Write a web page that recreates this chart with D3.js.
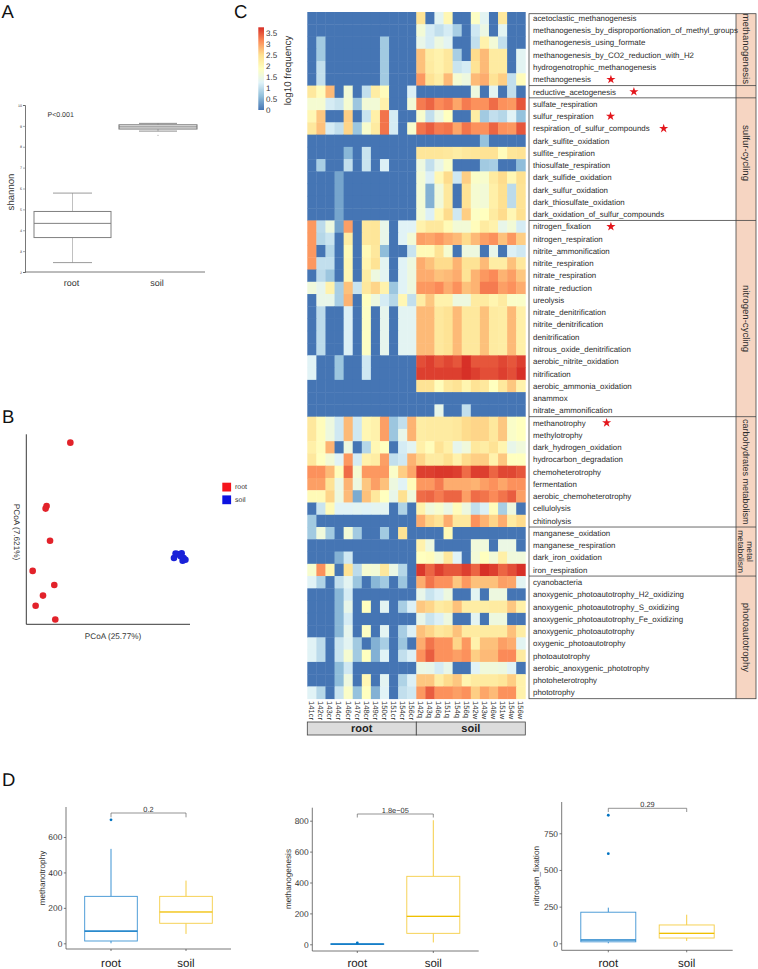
<!DOCTYPE html>
<html><head><meta charset="utf-8">
<script src="https://cdn.jsdelivr.net/npm/d3@7"></script>
<style>
html,body{margin:0;padding:0;background:#fff}
svg{display:block;font-family:"Liberation Sans",Arial,sans-serif;text-rendering:geometricPrecision}
text{fill:#333}
</style></head><body>
<div id="c"></div>
<script>
// ---------- data ----------
const sampleNames = ["141cr","142cr","143cr","144cr","146cr","147cr","148cr","149cr","150cr","151cr","154cr","156cr","142q","143q","146q","151q","154q","156q","142w","143w","146w","151w","154w","156w"];
const groupNames = ["root","soil"];
const functionNames = ["acetoclastic_methanogenesis","methanogenesis_by_disproportionation_of_methyl_groups","methanogenesis_using_formate","methanogenesis_by_CO2_reduction_with_H2","hydrogenotrophic_methanogenesis","methanogenesis","reductive_acetogenesis","sulfate_respiration","sulfur_respiration","respiration_of_sulfur_compounds","dark_sulfite_oxidation","sulfite_respiration","thiosulfate_respiration","dark_sulfide_oxidation","dark_sulfur_oxidation","dark_thiosulfate_oxidation","dark_oxidation_of_sulfur_compounds","nitrogen_fixation","nitrogen_respiration","nitrite_ammonification","nitrite_respiration","nitrate_respiration","nitrate_reduction","ureolysis","nitrate_denitrification","nitrite_denitrification","denitrification","nitrous_oxide_denitrification","aerobic_nitrite_oxidation","nitrification","aerobic_ammonia_oxidation","anammox","nitrate_ammonification","methanotrophy","methylotrophy","dark_hydrogen_oxidation","hydrocarbon_degradation","chemoheterotrophy","fermentation","aerobic_chemoheterotrophy","cellulolysis","chitinolysis","manganese_oxidation","manganese_respiration","dark_iron_oxidation","iron_respiration","cyanobacteria","anoxygenic_photoautotrophy_H2_oxidizing","anoxygenic_photoautotrophy_S_oxidizing","anoxygenic_photoautotrophy_Fe_oxidizing","anoxygenic_photoautotrophy","oxygenic_photoautotrophy","photoautotrophy","aerobic_anoxygenic_phototrophy","photoheterotrophy","phototrophy"];
const heatValues = [
[0,0,0,0,0,0,0,0,0,0,0,0, 2.4,0,1.3,2.0,0,0,1.8,1.3,0,2.3,0,0],
[0,0,0,0,0,0,0,0,0,0,0,0, 1.6,1.15,1.0,1.15,.8,0,1.1,1.45,0,1.3,0,0],
[0,.75,0,0,0,0,0,0,.75,0,0,0, 1.4,1.15,1.5,1.3,0,0,1.0,2.1,1.6,1.0,0,0],
[0,.75,0,0,0,0,0,0,.75,0,0,0, 2.7,2.2,2.1,2.3,.8,0,2.5,2.75,2.25,2.25,0,1.3],
[0,1.0,0,0,0,0,0,0,.75,0,0,0, 2.7,2.25,2.1,2.3,1.05,1.15,2.4,2.75,2.25,2.25,0,1.3],
[0,1.0,0,0,0,0,0,0,.75,0,0,0, 3.0,2.4,2.2,2.75,1.65,1.5,2.75,2.85,2.4,2.6,1.0,1.9],
[2.3,1.9,2.75,0,1.6,0,1.0,2.2,1.9,0,0,1.2, 0,0,0,0,0,0,1.5,0,1.3,0,1.0,0],
[1.65,1.65,1.15,1.05,1.65,.7,1.6,1.6,2.1,0,0,1.6, 3.2,3.35,3.1,3.2,2.9,3.2,3.05,3.05,3.3,3.05,3.0,3.45],
[2.0,2.65,0,0,2.6,0,1.05,2.15,3.25,1.15,0,0, 1.7,1.0,1.45,1.85,0,0,2.2,.75,1.0,.9,1.25,.65],
[2.3,2.7,1.15,1.0,2.55,.7,1.7,2.25,3.25,1.15,0,1.7, 3.25,3.4,3.2,3.25,2.9,3.25,3.05,3.05,3.35,3.05,3.0,3.45],
[0,0,0,0,0,0,0,0,0,0,0,0, 0,0,0,0,0,0,0,.65,0,0,0,0],
[0,0,0,0,.55,0,1.05,0,0,0,0,0, 2.35,2.35,2.35,2.3,2.2,2.3,2.35,2.4,2.4,1.9,2.35,2.4],
[0,.8,0,0,1.0,0,1.05,0,1.2,0,0,0, 1.5,1.0,1.4,1.75,0,0,0,.75,.8,0,0,.6],
[0,0,0,.4,0,0,0,0,0,0,0,0, 1.6,1.2,2.0,2.5,1.1,2.6,1.75,1.7,2.25,2.5,2.0,2.45],
[0,0,0,.4,0,0,0,0,0,0,0,0, 1.6,.5,1.55,2.3,0,2.4,1.65,1.6,2.15,2.45,.95,2.4],
[0,0,0,.4,0,0,0,0,0,0,0,0, 1.6,.5,1.55,2.3,0,2.4,1.65,1.6,2.15,2.45,.95,2.4],
[0,0,0,.4,0,0,0,0,0,0,0,0, 1.6,1.2,2.0,2.5,1.1,2.6,1.8,1.85,2.25,2.5,2.0,2.45],
[3.0,.95,1.5,.4,2.95,0,2.3,2.35,1.4,0,1.25,1.25, 2.1,2.3,2.3,1.95,1.6,1.6,1.9,2.25,2.1,1.4,1.6,1.15],
[3.0,.9,1.05,0,2.2,0,2.3,2.35,1.4,0,1.25,1.6, 2.95,2.9,3.0,2.85,2.75,2.5,2.75,2.95,3.05,2.7,3.0,2.6],
[3.0,0,.9,0,1.95,0,1.95,2.3,.6,0,0,1.05, 1.95,1.95,2.4,1.65,0,1.5,1.5,0,1.4,0,1.2,1.1],
[3.0,1.0,1.0,0,2.0,0,2.05,2.4,1.3,0,1.25,1.5, 2.85,2.7,2.5,2.5,2.8,2.4,2.4,2.75,2.2,2.2,2.7,2.3],
[0,.95,.7,0,2.0,0,2.2,1.5,1.3,0,1.25,1.5, 2.85,2.85,2.7,2.75,2.85,2.4,2.8,3.0,3.1,2.8,2.95,2.65],
[1.55,1.35,2.1,.8,2.7,1.05,2.3,2.55,2.1,.7,1.25,1.5, 3.0,3.0,3.1,2.85,3.05,2.7,2.8,3.2,3.2,2.95,3.05,2.85],
[0,1.4,1.4,.8,2.8,0,1.85,1.5,1.15,.9,2.0,1.0, 2.2,2.65,2.1,2.1,1.5,1.5,2.25,2.25,2.05,2.25,1.75,1.75],
[0,.95,0,0,1.2,0,1.8,0,1.35,0,1.3,1.3, 2.75,2.75,2.3,2.4,2.75,2.3,2.3,2.7,2.25,2.2,2.75,2.15],
[0,.95,0,0,1.2,0,1.8,0,1.35,0,1.3,1.3, 2.75,2.75,2.3,2.4,2.75,2.3,2.3,2.7,2.25,2.2,2.75,2.15],
[0,.95,0,0,1.2,0,1.8,0,1.35,0,1.3,1.3, 2.75,2.75,2.3,2.4,2.75,2.3,2.3,2.7,2.25,2.2,2.75,2.15],
[0,.95,0,0,1.2,0,1.8,0,1.35,0,1.3,1.3, 2.75,2.75,2.3,2.4,2.75,2.3,2.3,2.7,2.25,2.2,2.75,2.15],
[1.25,0,0,.7,0,0,1.1,0,0,0,0,0, 3.5,3.6,3.45,3.55,3.45,3.72,3.45,3.45,3.45,3.55,3.45,3.6],
[1.25,0,0,.7,0,0,1.1,0,0,0,0,0, 3.6,3.6,3.6,3.6,3.6,3.75,3.6,3.5,3.5,3.6,3.5,3.7],
[0,0,0,0,0,0,0,0,0,0,0,0, 2.4,2.4,1.9,2.3,2.4,2.05,2.4,2.3,1.85,2.3,2.65,2.1],
[0,0,0,0,0,0,0,0,0,0,0,0, 0,0,0,0,0,0,0,0,0,0,0,0],
[0,0,0,0,0,0,0,0,0,0,0,0, 0,0,1.4,0,0,1.0,0,0,0,0,0,0],
[2.3,1.9,1.5,1.1,2.75,1.1,2.0,2.1,2.95,.7,1.0,2.8, 2.2,2.25,2.25,2.25,2.3,2.5,2.55,2.55,2.3,2.65,1.75,1.85],
[2.3,1.9,1.5,1.1,2.75,1.1,2.0,2.1,2.95,.7,1.4,2.8, 2.2,2.25,2.25,2.25,2.3,2.5,2.55,2.55,2.3,2.65,1.75,1.85],
[2.15,1.9,2.8,0,1.5,0,.9,2.0,1.85,0,1.15,1.3, 2.15,1.9,2.4,2.15,1.35,1.55,2.3,2.2,2.4,2.05,1.4,1.55],
[2.3,1.85,1.6,1.25,3.0,1.15,2.1,2.2,2.95,1.0,1.1,2.8, 2.55,2.25,2.25,2.45,2.1,2.5,2.6,2.6,2.1,2.65,1.85,1.85],
[3.05,3.05,2.75,1.9,3.3,1.65,3.0,3.0,3.0,1.75,2.6,2.9, 3.6,3.6,3.65,3.65,3.6,3.3,3.6,3.6,3.35,3.55,3.55,3.45],
[2.95,2.95,2.4,1.45,2.8,1.5,2.65,2.95,2.7,1.5,1.25,1.9, 3.0,3.0,3.2,2.85,2.85,2.85,2.8,2.95,3.05,2.9,3.05,3.05],
[1.95,1.95,2.55,1.5,2.75,.45,2.7,2.3,1.85,1.4,2.45,1.55, 3.3,3.35,3.2,3.35,3.35,2.95,3.3,3.25,3.1,3.25,3.4,2.95],
[0,1.05,1.95,1.25,1.25,1.3,1.25,1.3,1.3,0,.85,0, 2.1,1.55,1.7,1.45,1.9,1.5,1.0,1.2,1.9,.8,1.5,0],
[.75,0,0,0,0,0,0,0,0,0,0,0, 2.85,2.55,2.4,2.85,2.3,2.3,3.05,2.8,2.55,2.85,2.25,2.5],
[.75,1.55,.75,0,1.6,.75,0,0,.75,0,2.4,0, 0,0,0,1.95,0,0,0,0,0,0,0,0],
[0,0,0,0,0,0,0,0,0,0,0,0, 2.1,1.5,0,0,0,0,1.55,1.55,0,1.45,1.45,0],
[0,0,0,.5,1.1,0,0,0,0,0,0,0, 1.85,1.9,1.6,2.3,1.25,0,1.6,1.85,1.6,2.15,1.55,1.55],
[1.7,3.05,2.05,0,2.4,.95,1.65,1.6,2.3,1.45,.9,0, 3.65,3.35,3.6,3.45,3.45,3.6,3.35,3.75,3.6,3.35,3.5,3.75],
[1.25,.85,0,1.0,1.3,.7,0,.55,.75,0,.7,0, 2.85,3.25,3.05,3.05,2.65,3.0,2.7,2.7,2.7,2.95,2.9,1.3],
[0,0,0,.55,1.15,0,0,0,0,0,0,0, 1.4,1.05,1.2,1.5,0,0,1.3,0,1.5,1.5,0,0],
[0,0,0,.55,1.4,0,1.85,0,1.3,0,.8,1.2, 2.65,2.55,2.25,2.35,2.7,2.2,2.2,2.2,2.25,2.25,2.65,2.15],
[0,0,0,.55,1.15,0,0,0,0,0,0,0, 1.4,1.05,1.2,1.5,0,0,1.3,0,1.5,1.5,0,0],
[0,0,0,.55,1.35,0,1.8,0,1.3,0,.8,1.2, 2.7,2.55,2.3,2.4,2.7,2.25,2.25,2.25,2.25,2.25,2.7,2.2],
[1.25,.95,0,1.05,1.3,.75,0,.5,.8,0,.7,0, 2.85,3.25,3.05,3.05,2.55,3.0,2.1,2.7,2.7,2.95,2.85,1.3],
[1.25,.95,0,1.05,1.65,.75,1.85,.5,1.25,0,1.0,1.2, 3.05,3.4,3.05,3.05,2.95,3.05,2.6,2.75,2.75,3.1,3.1,2.25],
[0,0,0,.6,1.1,0,0,0,0,0,0,0, 1.45,1.4,1.15,1.4,0,0,1.25,1.55,1.55,1.5,1.25,0],
[0,0,0,.6,1.5,0,2.0,0,1.3,0,.85,1.2, 2.65,2.65,2.2,2.5,2.65,2.05,2.25,2.25,2.25,2.35,2.6,2.1],
[1.25,.9,0,1.05,1.75,.65,1.85,.5,1.25,0,1.0,1.1, 3.0,3.4,3.05,3.05,2.95,3.05,2.6,2.9,2.75,3.05,3.05,2.1]
];
const cycleNames = ["methanogenesis","sulfur-cycling","nitrogen-cycling","carbohydrates metabolism","metal|metabolism","photoautotrophy"];
const cycleRowCounts = [6,11,16,9,4,10];
const dividerRows = [6,7,17,33,42,46];
const starredFunctions = ["methanogenesis","reductive_acetogenesis","sulfur_respiration","respiration_of_sulfur_compounds","nitrogen_fixation","methanotrophy"];
const colorStops = ["#4575B4","#91BFDB","#E0F3F8","#FFFFBF","#FEE090","#FC8D59","#D73027"];
const legendTicks = [0,.5,1,1.5,2,2.5,3,3.5];

// panel A: [min, q1, median, q3, max]
const shannonRoot = [2.45,3.65,4.33,4.9,5.78];
const shannonSoil = [8.75,8.85,8.95,9.05,9.12];
const shannonSoilOutliers = [8.55];
// panel B: axis-fraction PCoA coordinates
const rootPcoaX = [.269,.124,.118,.145,.039,.171,.102,.057,.177];
const rootPcoaY = [.956,.623,.609,.440,.281,.207,.151,.098,.025];
const soilPcoaX = [.902,.912,.933,.949,.955,.972,.961,.923,.943];
const soilPcoaY = [.349,.372,.367,.374,.335,.340,.349,.370,.358];
// panel D
const methanotrophyRoot = [0,13,69,265,533], methanotrophySoil = [53,113,177,265,354];
const methanotrophyRootOut = [697], methanotrophySoilOut = [];
const methanogenesisRoot = [0,0,1,3,5], methanogenesisSoil = [12,71,181,440,803];
const methanogenesisRootOut = [9], methanogenesisSoilOut = [];
const nitrogenFixRoot = [0,10,23,212,243], nitrogenFixSoil = [16,36,68,125,195];
const nitrogenFixRootOut = [873,611], nitrogenFixSoilOut = [];

// ---------- layout ----------
const W = 758, H = 969;
const svg = d3.select("#c").append("svg").attr("width",W).attr("height",H).attr("viewBox",`0 0 ${W} ${H}`);
[["A",1.5,17.5],["B",2,422.5],["C",234,17.5],["D",2,785.7]].forEach(([t,x,y])=>
  svg.append("text").attr("x",x).attr("y",y).attr("font-size",18.5).style("fill","#111").text(t));

// ---------- panel C: heatmap ----------
const hm = {x0:307.3,x1:525.3,y0:12,y1:698.7};
const xBand = d3.scaleBand().domain(sampleNames).range([hm.x0,hm.x1]);
const yBand = d3.scaleBand().domain(functionNames).range([hm.y0,hm.y1]);
const colorDomain = colorStops.map((_,i)=>i*3.7/(colorStops.length-1));
const color = d3.scaleLinear().domain(colorDomain).range(colorStops).clamp(true);
const cells = heatValues.flatMap((row,r)=>row.map((v,c)=>({v,r:functionNames[r],c:sampleNames[c]})));
svg.append("g").selectAll("rect").data(cells).join("rect")
  .attr("x",d=>xBand(d.c)).attr("y",d=>yBand(d.r))
  .attr("width",xBand.bandwidth()+.4).attr("height",yBand.bandwidth()+.4)
  .attr("fill",d=>color(d.v));

// sample labels
svg.append("g").selectAll("text").data(sampleNames).join("text")
  .attr("transform",d=>`translate(${xBand(d)+xBand.bandwidth()/2-2.6},701) rotate(90)`)
  .attr("font-size",7.6).text(d=>d);
// group strip
const stripY = 722, stripH = 13;
[[0,12,groupNames[0]],[12,24,groupNames[1]]].forEach(([a,b,n])=>{
  const xa = xBand(sampleNames[a]), xb = b<24 ? xBand(sampleNames[b]) : hm.x1;
  svg.append("rect").attr("x",xa).attr("y",stripY).attr("width",xb-xa).attr("height",stripH)
     .attr("fill","#dcdcdc").attr("stroke","#444").attr("stroke-width",.8);
  svg.append("text").attr("x",(xa+xb)/2).attr("y",stripY+10).attr("text-anchor","middle")
     .attr("font-size",11).attr("font-weight","bold").style("fill","#222").text(n);
});

// function table
const tb = {x0:529,x1:736,x2:756,y0:13.7,y1:698.7};
svg.append("rect").attr("x",tb.x1).attr("y",tb.y0).attr("width",tb.x2-tb.x1).attr("height",tb.y1-tb.y0)
  .attr("fill","#f6d5c2");
svg.append("rect").attr("x",tb.x0).attr("y",tb.y0).attr("width",tb.x2-tb.x0).attr("height",tb.y1-tb.y0)
  .attr("fill","none").attr("stroke","#444").attr("stroke-width",.8);
svg.append("line").attr("x1",tb.x1).attr("x2",tb.x1).attr("y1",tb.y0).attr("y2",tb.y1).attr("stroke","#444").attr("stroke-width",.8);
svg.append("g").selectAll("line").data(dividerRows).join("line")
  .attr("x1",tb.x0).attr("x2",tb.x2).attr("y1",d=>yBand(functionNames[d])).attr("y2",d=>yBand(functionNames[d]))
  .attr("stroke","#444").attr("stroke-width",.8);
const labels = svg.append("g").selectAll("text").data(functionNames).join("text")
  .attr("x",533).attr("y",d=>yBand(d)+yBand.bandwidth()/2+2.8)
  .attr("font-size",7.9).style("fill","#2b2b2b").text(d=>d);
// stars follow the ends of their labels
const starGap = {methanogenesis:20,reductive_acetogenesis:18,sulfur_respiration:17,respiration_of_sulfur_compounds:14,nitrogen_fixation:20,methanotrophy:21};
const star = d3.symbol().type(d3.symbolStar).size(26);
labels.each(function(d){
  if(!starredFunctions.includes(d)) return;
  const w = this.getComputedTextLength();
  svg.append("path").attr("d",star())
    .attr("transform",`translate(${533+w+starGap[d]},${yBand(d)+yBand.bandwidth()/2})`)
    .attr("fill","#e3161c");
});
// cycle strip text
let rowCursor = 0;
cycleNames.forEach((n,i)=>{
  const yStart = yBand(functionNames[rowCursor]);
  rowCursor += cycleRowCounts[i];
  const yEnd = rowCursor<functionNames.length ? yBand(functionNames[rowCursor]) : hm.y1;
  const parts = n.split("|");
  const fs = parts.length>1 ? 8.4 : (n.length>20 ? 9 : 9.6);
  const g = svg.append("text").attr("transform",`translate(746,${(yStart+yEnd)/2}) rotate(90)`)
    .attr("text-anchor","middle").attr("font-size",fs).style("fill","#2b2b2b");
  parts.forEach((p,k)=>g.append("tspan").attr("x",0)
    .attr("y",parts.length>1 ? (k===0?-0.5:8) : 3.2).text(p));
});

// colour legend
const lgScale = d3.scaleLinear().domain([0,3.74]).range([110,27.3]);
const grad = svg.append("defs").append("linearGradient").attr("id","lg").attr("x1",0).attr("x2",0).attr("y1",1).attr("y2",0);
colorStops.forEach((c,i)=>grad.append("stop").attr("offset",i/(colorStops.length-1)).attr("stop-color",c));
svg.append("rect").attr("x",258.3).attr("y",27.3).attr("width",5.7).attr("height",82.7).attr("fill","url(#lg)");
svg.append("g").selectAll("text").data(legendTicks).join("text")
  .attr("x",266).attr("y",d=>lgScale(d)+2.9).attr("font-size",8).text(d=>d);
svg.append("text").attr("transform","translate(291,70.5) rotate(-90)").attr("text-anchor","middle")
  .attr("font-size",9.8).text("log10 frequency");

// ---------- box helper ----------
function drawBox(g,x,w,capW,s,y,stroke,boxW,medW,whiskW){
  g.append("line").attr("x1",x).attr("x2",x).attr("y1",y(s[3])).attr("y2",y(s[4])).attr("stroke",stroke).attr("stroke-width",whiskW);
  g.append("line").attr("x1",x).attr("x2",x).attr("y1",y(s[1])).attr("y2",y(s[0])).attr("stroke",stroke).attr("stroke-width",whiskW);
  if(capW){[s[0],s[4]].forEach(v=>g.append("line").attr("x1",x-capW/2).attr("x2",x+capW/2).attr("y1",y(v)).attr("y2",y(v)).attr("stroke",stroke).attr("stroke-width",whiskW+.3));}
  g.append("rect").attr("x",x-w/2).attr("width",w).attr("y",y(s[3])).attr("height",Math.max(.2,y(s[1])-y(s[3])))
    .attr("fill","#fff").attr("stroke",stroke).attr("stroke-width",boxW);
  g.append("line").attr("x1",x-w/2).attr("x2",x+w/2).attr("y1",y(s[2])).attr("y2",y(s[2])).attr("stroke",stroke).attr("stroke-width",medW);
}

// ---------- panel A ----------
(function(){
  const g = svg.append("g");
  const y = d3.scaleLinear().domain([2,10]).range([272,105]);
  const x = d3.scalePoint().domain(groupNames).range([72.5,158]);
  const ya = d3.axisLeft(y).ticks(8).tickSize(2).tickPadding(1);
  const yg = g.append("g").attr("transform","translate(25,0)").call(ya);
  yg.select(".domain").attr("stroke","#555").attr("stroke-width",.8);
  yg.selectAll("text").attr("font-size",3.6).attr("font-family","inherit");
  yg.selectAll("line").attr("stroke","#555").attr("stroke-width",.5);
  g.append("line").attr("x1",25).attr("x2",205).attr("y1",272).attr("y2",272).attr("stroke","#555").attr("stroke-width",.8);
  drawBox(g,x("root"),77,39,shannonRoot,y,"#808080",1,1,.5);
  drawBox(g,x("soil"),78,38,shannonSoil,y,"#707070",1,1,.5);
  g.selectAll(".o").data(shannonSoilOutliers).join("circle").attr("cx",x("soil")).attr("cy",d=>y(d)).attr("r",.5).attr("fill","#888");
  g.append("text").attr("x",47.5).attr("y",116.5).attr("font-size",7).text("P<0.001");
  g.selectAll(".xl").data(groupNames).join("text").attr("x",d=>x(d)-1).attr("y",286).attr("text-anchor","middle").attr("font-size",9).text(d=>d);
  g.append("text").attr("transform","translate(13.5,192) rotate(-90)").attr("text-anchor","middle").attr("font-size",9.6).text("shannon");
})();

// ---------- panel B ----------
(function(){
  const g = svg.append("g");
  const x = d3.scaleLinear().domain([0,1]).range([26.3,190]);
  const y = d3.scaleLinear().domain([0,1]).range([624.3,434.3]);
  g.append("line").attr("x1",x(0)).attr("x2",x(0)).attr("y1",y(0)).attr("y2",y(1)).attr("stroke","#222").attr("stroke-width",.9);
  g.append("line").attr("x1",x(0)).attr("x2",x(1)).attr("y1",y(0)).attr("y2",y(0)).attr("stroke","#222").attr("stroke-width",.9);
  const dots = (xs,ys,c)=>g.append("g").selectAll("circle").data(xs).join("circle")
    .attr("cx",d=>x(d)).attr("cy",(d,i)=>y(ys[i])).attr("r",3.3).attr("fill",c);
  dots(rootPcoaX,rootPcoaY,"#e2222a");
  dots(soilPcoaX,soilPcoaY,"#1a22d8");
  [["#f5141c"],["#0d12e0"]].forEach(([c],i)=>{
    g.append("rect").attr("x",222.3).attr("y",482.7+i*12.7).attr("width",8.8).attr("height",8.8).attr("fill",c);
    g.append("text").attr("x",235).attr("y",489.3+i*13).attr("font-size",7).text(groupNames[i]);
  });
  g.append("text").attr("x",113).attr("y",638.8).attr("text-anchor","middle").attr("font-size",8.2).text("PCoA (25.77%)");
  g.append("text").attr("transform","translate(13.5,532) rotate(90)").attr("text-anchor","middle").attr("font-size",8.2).text("PCoA (7.621%)");
})();

// ---------- panel D ----------
function boxPanel(o){
  const g = svg.append("g");
  const y = d3.scaleLinear().domain(o.dom).range(o.rng);
  const x = d3.scalePoint().domain(groupNames).range(o.cx);
  const ax = o.axX, bt = o.axBot;
  const ya = d3.axisLeft(y).tickValues(o.ticks).tickSize(2.2).tickPadding(1.5);
  const yg = g.append("g").attr("transform",`translate(${ax},0)`).call(ya);
  yg.select(".domain").remove();
  yg.selectAll("text").attr("font-size",8.4).attr("font-family","inherit");
  yg.selectAll("line").attr("stroke","#444").attr("stroke-width",.7);
  g.append("line").attr("x1",ax).attr("x2",ax).attr("y1",o.axTop).attr("y2",bt).attr("stroke","#555").attr("stroke-width",.8);
  g.append("line").attr("x1",ax).attr("x2",o.axR).attr("y1",bt).attr("y2",bt).attr("stroke","#555").attr("stroke-width",.8);
  groupNames.forEach(n=>g.append("line").attr("x1",x(n)).attr("x2",x(n)).attr("y1",bt).attr("y2",bt+2).attr("stroke","#444").attr("stroke-width",.7));
  const cols = {root:"#3d93d3",soil:"#f5cd45"}, meds = {root:"#0073C2",soil:"#EFC000"};
  [["root",o.rs,o.ro],["soil",o.ss,o.so]].forEach(([n,s,out])=>{
    drawBox(g,x(n),o.bw,0,s,y,cols[n],.9,.8,1);
    g.append("line").attr("x1",x(n)-o.bw/2).attr("x2",x(n)+o.bw/2).attr("y1",y(s[2])).attr("y2",y(s[2])).attr("stroke",meds[n]).attr("stroke-width",1.1);
    g.append("g").selectAll("circle").data(out).join("circle").attr("cx",x(n)).attr("cy",d=>y(d)).attr("r",1.4).attr("fill","#0073C2");
  });
  g.append("path").attr("d",`M${x("root")},${o.bTip}V${o.bY}H${x("soil")}V${o.bTip}`).attr("fill","none").attr("stroke","#666").attr("stroke-width",.7);
  g.append("text").attr("x",(x("root")+x("soil"))/2).attr("y",o.bY-1.2).attr("text-anchor","middle").attr("font-size",7.4).text(o.p);
  g.selectAll(".xl").data(groupNames).join("text").attr("x",d=>x(d)).attr("y",966.5).attr("text-anchor","middle").attr("font-size",11.5).style("fill","#222").text(d=>d);
  g.append("text").attr("transform",`translate(${o.titleX},${o.titleY}) rotate(-90)`).attr("text-anchor","middle").attr("font-size",8.2).text(o.title);
}
boxPanel({dom:[0,600],rng:[943.3,837],ticks:[0,200,400,600],cx:[111,186],axX:66,axTop:807,axBot:949,axR:231,bw:52.6,
  rs:methanotrophyRoot,ss:methanotrophySoil,ro:methanotrophyRootOut,so:methanotrophySoilOut,bY:813,bTip:817.3,p:"0.2",title:"methanotrophy",titleX:45,titleY:878});
boxPanel({dom:[0,800],rng:[944.3,820.7],ticks:[0,200,400,600,800],cx:[357.3,433.3],axX:312.3,axTop:807.7,axBot:951,axR:478.7,bw:53,
  rs:methanogenesisRoot,ss:methanogenesisSoil,ro:methanogenesisRootOut,so:methanogenesisSoilOut,bY:814,bTip:817.5,p:"1.8e\u221205",title:"methanogenesis",titleX:290.5,titleY:879});
boxPanel({dom:[0,750],rng:[943.3,833.3],ticks:[0,250,500,750],cx:[608.3,686.7],axX:561.7,axTop:802,axBot:950.3,axR:732.7,bw:55,
  rs:nitrogenFixRoot,ss:nitrogenFixSoil,ro:nitrogenFixRootOut,so:nitrogenFixSoilOut,bY:808.3,bTip:812,p:"0.29",title:"nitrogen_fixation",titleX:539,titleY:876});
</script>
</body></html>
